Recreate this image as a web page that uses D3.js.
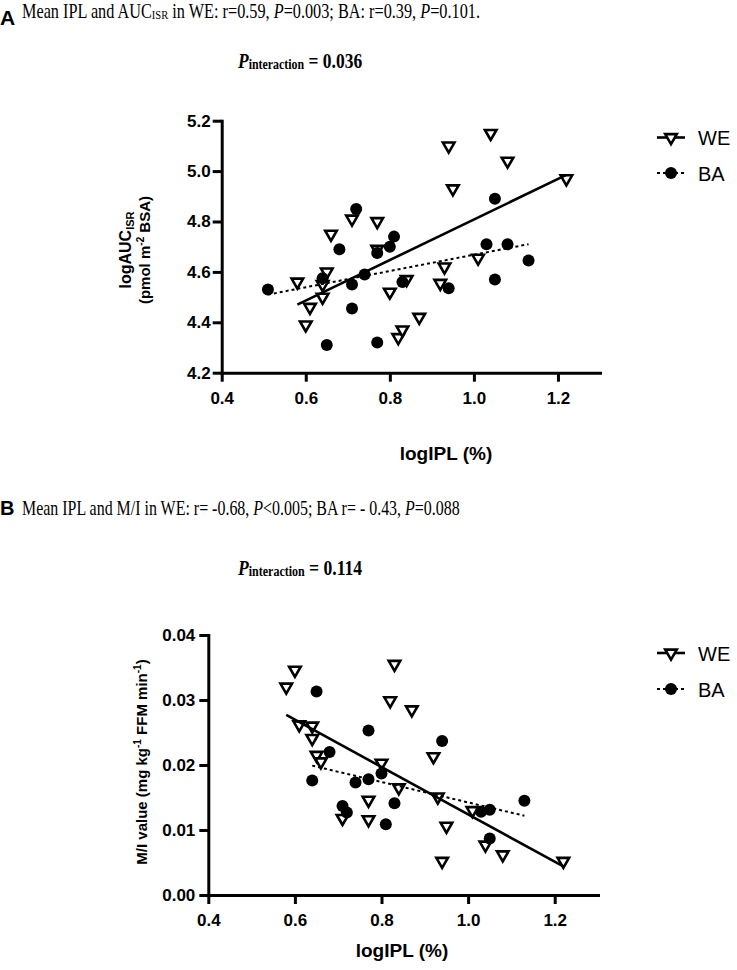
<!DOCTYPE html>
<html>
<head>
<meta charset="utf-8">
<script src="https://cdn.jsdelivr.net/npm/d3@7.9.0/dist/d3.min.js"></script>
<style>
  body { margin: 0; background: #fff; }
  svg { display: block; }
  .tick text { font-family: "Liberation Sans", Arial, sans-serif; font-weight: bold; font-size: 17px; fill: #000; }
  .domain, .tick line { stroke: #000; stroke-width: 3; }
</style>
</head>
<body>
<svg id="chart" width="737" height="970"></svg>
<script>
/* ---------- data --------- */
const xTicks  = [0.4, 0.6, 0.8, 1.0, 1.2];
const yTicksA = [4.2, 4.4, 4.6, 4.8, 5.0, 5.2];
const yTicksB = [0.00, 0.01, 0.02, 0.03, 0.04];
const groups  = ['WE', 'BA'];

// panel A: logIPL vs logAUC_ISR
const weA = [[0.58,4.56],[0.60,4.39],[0.61,4.46],[0.64,4.50],[0.64,4.55],[0.65,4.60],[0.66,4.75],
  [0.71,4.81],[0.77,4.80],[0.77,4.69],[0.80,4.52],[0.82,4.34],[0.83,4.37],[0.84,4.57],[0.87,4.42],
  [0.92,4.555],[0.93,4.62],[0.94,5.10],[0.95,4.93],[1.01,4.655],[1.04,5.15],[1.08,5.04],[1.22,4.97]];
const baA = [[0.51,4.53],[0.64,4.575],[0.65,4.31],[0.68,4.69],[0.71,4.55],[0.71,4.455],[0.72,4.85],
  [0.74,4.59],[0.77,4.32],[0.77,4.675],[0.80,4.70],[0.81,4.74],[0.83,4.56],[0.94,4.535],[1.03,4.71],
  [1.05,4.89],[1.05,4.57],[1.08,4.71],[1.13,4.645]];
const weFitA = [[0.58,4.47],[1.22,4.985]];
const baFitA = [[0.51,4.51],[1.13,4.71]];

// panel B: logIPL vs M/I value
const weB = [[0.58,0.0320],[0.60,0.0346],[0.61,0.0262],[0.64,0.0260],[0.64,0.0241],[0.65,0.0215],
  [0.66,0.0205],[0.71,0.0118],[0.77,0.0146],[0.77,0.0116],[0.80,0.0203],[0.82,0.0299],[0.83,0.0355],
  [0.84,0.0165],[0.87,0.0285],[0.92,0.0213],[0.93,0.0151],[0.94,0.0052],[0.95,0.0106],[1.01,0.0130],
  [1.04,0.0077],[1.08,0.0062],[1.22,0.0052]];
const baB = [[0.64,0.0176],[0.65,0.0313],[0.68,0.0220],[0.71,0.0137],[0.72,0.0127],[0.74,0.0173],
  [0.77,0.0253],[0.77,0.0178],[0.80,0.0187],[0.81,0.0109],[0.83,0.0141],[0.94,0.0237],[1.03,0.0128],
  [1.05,0.0131],[1.05,0.0087],[1.13,0.0145]];
const weFitB = [[0.58,0.0277],[1.22,0.0044]];
const baFitB = [[0.64,0.0199],[1.13,0.0122]];

const SANS  = '"Liberation Sans", Arial, sans-serif';
const SERIF = '"Liberation Serif", "Times New Roman", serif';

const svg = d3.select('#chart');

/* ---------- helpers --------- */
// draw text at natural width, then squeeze it horizontally to the width in the figure
function squeeze(g, x, y, width) {
  const w = g.node().getBBox().width;
  g.attr('transform', `translate(${x},${y}) scale(${width / w},1)`);
}

function tri() { return d3.symbol(d3.symbolTriangle, 58)(); }

function panel(o) {
  const x = d3.scaleLinear().domain([0.4, 1.3]).range(o.xr);
  const y = d3.scaleLinear().domain(o.ydom).range(o.yr);
  const g = svg.append('g');

  g.append('g').attr('transform', `translate(0,${o.yr[0]})`)
    .call(d3.axisBottom(x).tickValues(xTicks).tickFormat(d3.format('.1f'))
      .tickSize(9).tickSizeOuter(0).tickPadding(o.xpad));
  g.append('g').attr('transform', `translate(${o.xr[0]},0)`)
    .call(d3.axisLeft(y).tickValues(o.yticks).tickFormat(d3.format(o.yfmt))
      .tickSize(9).tickSizeOuter(0).tickPadding(o.ypad));
  g.selectAll('.domain').attr('stroke-linecap', 'square');

  const line = d3.line().x(d => x(d[0])).y(d => y(d[1]));

  g.append('g').selectAll('path').data(o.we).join('path')
    .attr('d', tri())
    .attr('transform', d => `translate(${x(d[0])},${y(d[1])}) rotate(180)`)
    .attr('fill', '#fff').attr('stroke', '#000').attr('stroke-width', 2.6);
  g.append('g').selectAll('circle').data(o.ba).join('circle')
    .attr('cx', d => x(d[0])).attr('cy', d => y(d[1])).attr('r', 6)
    .attr('fill', '#000');

  g.append('path').datum(o.weFit).attr('d', line)
    .attr('stroke', '#000').attr('stroke-width', 2.6).attr('fill', 'none');
  g.append('path').datum(o.baFit).attr('d', line)
    .attr('stroke', '#000').attr('stroke-width', 2).attr('stroke-dasharray', '3,3').attr('fill', 'none');

  // x axis title
  g.append('text').attr('x', o.xlab[0]).attr('y', o.xlab[1])
    .attr('text-anchor', 'middle').attr('font-family', SANS).attr('font-weight', 'bold')
    .attr('font-size', 19).text('logIPL (%)');

  // legend
  const lg = g.append('g');
  groups.forEach((name, i) => {
    const ly = o.leg[1] + i * o.legGap;
    lg.append('line').attr('x1', o.leg[0] - 14).attr('x2', o.leg[0] + 14)
      .attr('y1', ly).attr('y2', ly).attr('stroke', '#000')
      .attr('stroke-width', i ? 2 : 2.6).attr('stroke-dasharray', i ? '3,3' : null);
    if (i === 0) {
      lg.append('path').attr('d', tri())
        .attr('transform', `translate(${o.leg[0]},${ly}) rotate(180)`)
        .attr('fill', '#fff').attr('stroke', '#000').attr('stroke-width', 2.6);
    } else {
      lg.append('circle').attr('cx', o.leg[0]).attr('cy', ly).attr('r', 6).attr('fill', '#000');
    }
    lg.append('text').attr('x', o.leg[0] + 27).attr('y', ly + 7.5)
      .attr('font-family', SANS).attr('font-size', 20).text(name);
  });

  // P interaction
  const p = g.append('text').attr('font-family', SERIF).attr('font-weight', 'bold').attr('font-size', 22);
  p.append('tspan').attr('font-style', 'italic').text('P');
  p.append('tspan').attr('font-size', 15).attr('dy', 1).text('interaction');
  p.append('tspan').attr('dy', -1).text(' = ' + o.pint);
  squeeze(p, 238, o.pintY, 125);
  return g;
}

/* ---------- panel A --------- */
const gA = panel({
  xr: [221.7, 600], yr: [372.7, 120.7], ydom: [4.2, 5.2], yticks: yTicksA, yfmt: '.1f',
  xpad: 10, ypad: 2, we: weA, ba: baA, weFit: weFitA, baFit: baFitA,
  xlab: [446, 460], leg: [671, 137.5], legGap: 35.5, pint: '0.036', pintY: 68
});
const ylA = gA.append('text').attr('transform', 'translate(131,250) rotate(-90)')
  .attr('text-anchor', 'middle').attr('font-family', SANS).attr('font-weight', 'bold').attr('font-size', 16);
ylA.append('tspan').text('logAUC');
ylA.append('tspan').attr('font-size', 11).attr('dy', 3).text('ISR');
const ylA2 = gA.append('text').attr('transform', 'translate(150,250) rotate(-90)')
  .attr('text-anchor', 'middle').attr('font-family', SANS).attr('font-weight', 'bold').attr('font-size', 15);
ylA2.append('tspan').text('(pmol m');
ylA2.append('tspan').attr('font-size', 10).attr('dy', -6).text('-2');
ylA2.append('tspan').attr('dy', 6).text(' BSA)');

/* ---------- panel B --------- */
const gB = panel({
  xr: [208.3, 598], yr: [895, 635], ydom: [0, 0.04], yticks: yTicksB, yfmt: '.2f',
  xpad: 10, ypad: 4, we: weB, ba: baB, weFit: weFitB, baFit: baFitB,
  xlab: [402, 957], leg: [671, 653], legGap: 36, pint: '0.114', pintY: 575
});
const ylB = gB.append('text').attr('transform', 'translate(147,762) rotate(-90)')
  .attr('text-anchor', 'middle').attr('font-family', SANS).attr('font-weight', 'bold').attr('font-size', 15);
ylB.append('tspan').text('M/I value (mg kg');
ylB.append('tspan').attr('font-size', 10).attr('dy', -6).text('-1');
ylB.append('tspan').attr('dy', 6).text(' FFM min');
ylB.append('tspan').attr('font-size', 10).attr('dy', -6).text('-1');
ylB.append('tspan').attr('dy', 6).text(')');

/* ---------- panel headings --------- */
svg.append('text').attr('x', 0).attr('y', 25).attr('font-family', SANS).attr('font-weight', 'bold')
  .attr('font-size', 21).text('A');
svg.append('text').attr('x', 0).attr('y', 515).attr('font-family', SANS).attr('font-weight', 'bold')
  .attr('font-size', 20).text('B');

const tA = svg.append('text').attr('font-family', SERIF).attr('font-size', 20);
tA.append('tspan').text('Mean IPL and AUC');
tA.append('tspan').attr('font-size', 13).attr('dy', 1).text('ISR');
tA.append('tspan').attr('dy', -1).text(' in WE: r=0.59, ');
tA.append('tspan').attr('font-style', 'italic').text('P');
tA.append('tspan').text('=0.003; BA: r=0.39, ');
tA.append('tspan').attr('font-style', 'italic').text('P');
tA.append('tspan').text('=0.101.');
squeeze(tA, 22, 18.3, 458);

const tB = svg.append('text').attr('font-family', SERIF).attr('font-size', 20);
tB.append('tspan').text('Mean IPL and M/I in WE: r= -0.68, ');
tB.append('tspan').attr('font-style', 'italic').text('P');
tB.append('tspan').text('<0.005; BA r= - 0.43, ');
tB.append('tspan').attr('font-style', 'italic').text('P');
tB.append('tspan').text('=0.088');
squeeze(tB, 22, 515, 438);
</script>
</body>
</html>
